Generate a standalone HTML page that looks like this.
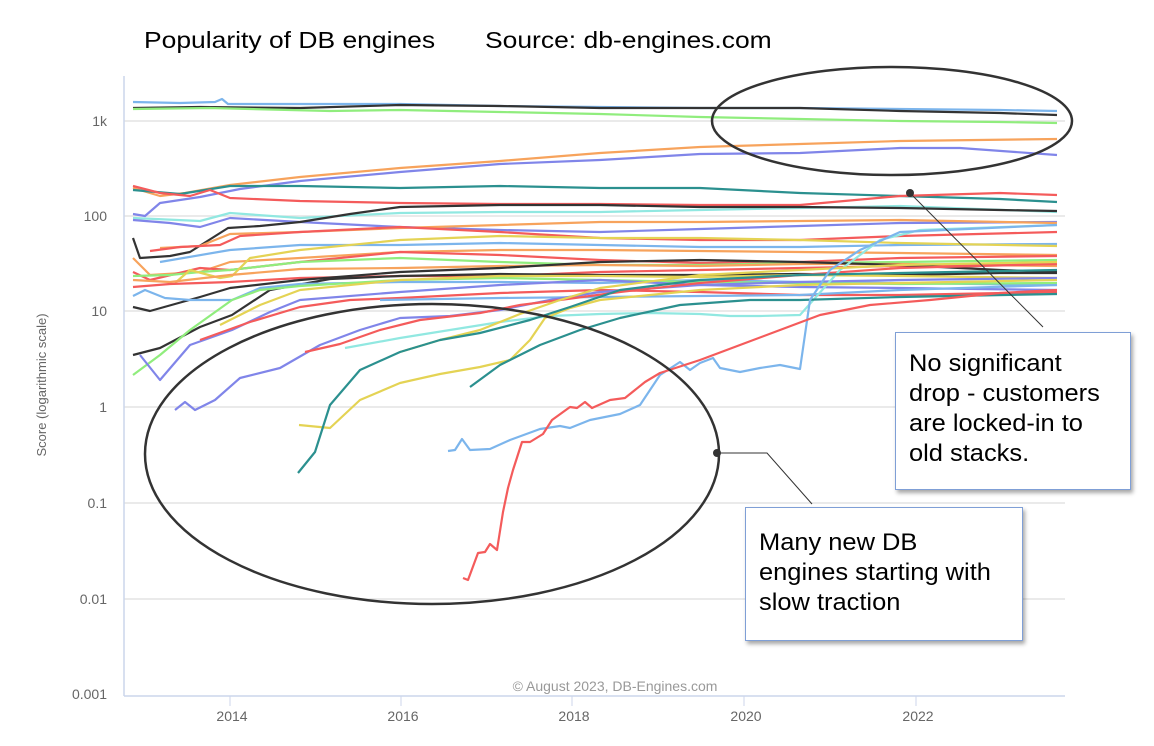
<!DOCTYPE html>
<html><head><meta charset="utf-8"><style>
html,body{margin:0;padding:0;background:#fff;}
body{width:1154px;height:746px;overflow:hidden;position:relative;font-family:"Liberation Sans",sans-serif;}
.t{position:absolute;font-size:23px;color:#000;top:27px;transform:scaleX(1.15);transform-origin:left top;white-space:nowrap;}
.box{position:absolute;background:#fff;border:1px solid #7f9fd6;box-shadow:2px 3px 4px rgba(0,0,0,0.35);font-size:24px;line-height:30px;color:#000;box-sizing:border-box;white-space:nowrap;}
.box span{display:inline-block;transform:scaleX(1.06);transform-origin:left top;}
</style></head><body>
<div class="t" style="left:144px">Popularity of DB engines</div>
<div class="t" style="left:485px">Source: db-engines.com</div>
<svg width="1154" height="746" style="position:absolute;left:0;top:0" font-family="Liberation Sans, DejaVu Sans, sans-serif">
<g stroke="#e3e3e3" stroke-width="1.5">
<line x1="124" y1="121" x2="1065" y2="121"/><line x1="124" y1="216" x2="1065" y2="216"/>
<line x1="124" y1="311" x2="1065" y2="311"/><line x1="124" y1="407" x2="1065" y2="407"/>
<line x1="124" y1="503" x2="1065" y2="503"/><line x1="124" y1="599" x2="1065" y2="599"/>
</g>
<line x1="124" y1="76" x2="124" y2="696" stroke="#ccd6eb" stroke-width="1.5"/>
<line x1="124" y1="696" x2="1065" y2="696" stroke="#ccd6eb" stroke-width="1.5"/>
<g stroke="#ccd6eb"><line x1="230" y1="696" x2="230" y2="706"/><line x1="401" y1="696" x2="401" y2="706"/><line x1="572" y1="696" x2="572" y2="706"/><line x1="744" y1="696" x2="744" y2="706"/><line x1="916" y1="696" x2="916" y2="706"/></g>
<g fill="#666" font-size="14" text-anchor="end">
<text x="107" y="126">1k</text><text x="107" y="221">100</text><text x="107" y="316">10</text><text x="107" y="412">1</text><text x="107" y="508">0.1</text><text x="107" y="604">0.01</text><text x="107" y="699">0.001</text>
</g>
<g fill="#666" font-size="14" text-anchor="middle">
<text x="232" y="721">2014</text><text x="403" y="721">2016</text><text x="574" y="721">2018</text><text x="746" y="721">2020</text><text x="918" y="721">2022</text>
</g>
<text x="46" y="385" fill="#666" font-size="13" text-anchor="middle" transform="rotate(-90 46 385)">Score (logarithmic scale)</text>
<text x="615" y="691" fill="#999" font-size="14" text-anchor="middle">© August 2023, DB-Engines.com</text>
<g fill="none" stroke-width="2.2" stroke-linejoin="round">
<polyline stroke="#7cb5ec" points="133,102 180,103 215,102 222,99 228,104 300,104 400,104 500,106 600,107 700,108 800,108 900,109 1000,110 1057,111"/>
<polyline stroke="#333" points="133,108 200,107 300,108 400,105 500,106 600,108 700,108 800,108 900,111 1000,113 1057,115"/>
<polyline stroke="#90ed7d" points="133,109 210,108 330,111 400,110 500,112 600,114 700,117 800,119 900,121 1000,122 1057,123"/>
<polyline stroke="#f7a35c" points="133,188 160,196 185,193 230,185 300,177 400,168 500,161 600,153 700,147 800,144 900,141 1057,139"/>
<polyline stroke="#8085e9" points="133,214 145,216 160,203 200,197 240,189 300,181 400,172 500,164 600,160 700,154 800,153 900,148 960,148 1057,155"/>
<polyline stroke="#2b908f" points="133,190 180,194 230,186 300,186 400,188 500,186 600,188 700,188 800,193 900,196 1000,199 1057,202"/>
<polyline stroke="#f45b5b" points="133,186 160,193 190,196 210,190 230,198 300,201 400,203 500,204 600,204 700,205 800,205 900,196 1000,193 1057,195"/>
<polyline stroke="#91e8e1" points="133,218 200,221 230,213 300,218 400,213 500,212 600,212 700,210 800,208 900,206 1057,212"/>
<polyline stroke="#8085e9" points="133,220 170,223 200,227 230,218 300,222 400,227 500,230 600,232 700,229 800,226 900,223 1057,222"/>
<polyline stroke="#333" points="133,238 140,258 170,256 190,252 228,228 260,226 300,222 350,214 400,207 500,205 600,205 700,207 800,207 900,208 1000,210 1057,211"/>
<polyline stroke="#f7a35c" points="160,248 200,246 230,234 300,232 400,228 500,225 600,222 700,222 800,221 900,220 1057,223"/>
<polyline stroke="#f45b5b" points="150,251 180,247 220,245 240,236 300,232 400,227 500,232 600,238 700,240 800,240 900,236 1057,232"/>
<polyline stroke="#7cb5ec" points="160,262 230,250 300,245 400,245 500,243 600,245 700,247 800,247 900,245 1057,244"/>
<polyline stroke="#f7a35c" points="133,258 150,275 200,272 230,262 300,258 400,252 500,250 600,250 700,251 800,252 900,253 1057,255"/>
<polyline stroke="#f45b5b" points="133,272 150,280 200,268 230,270 300,262 400,252 500,255 600,260 700,263 800,262 900,258 1057,256"/>
<polyline stroke="#90ed7d" points="133,276 170,275 200,272 230,270 300,262 400,258 500,262 600,265 700,265 800,263 900,262 1057,260"/>
<polyline stroke="#e4d354" points="175,283 190,270 220,278 232,276 250,258 300,250 400,240 500,236 600,238 700,238 800,240 900,243 1057,246"/>
<polyline stroke="#f7a35c" points="133,280 170,282 230,275 300,269 400,268 500,266 600,265 700,266 800,264 900,264 1057,266"/>
<polyline stroke="#f45b5b" points="133,287 170,284 230,282 300,278 400,276 500,276 600,272 700,270 800,268 900,266 1057,264"/>
<polyline stroke="#333" points="133,307 150,311 200,297 230,288 300,280 400,272 500,268 600,262 700,260 800,262 900,265 1000,270 1057,272"/>
<polyline stroke="#333" points="133,355 160,348 200,327 232,315 270,290 330,279 400,276 500,274 600,275 700,275 800,274 900,275 1000,273 1057,273"/>
<polyline stroke="#7cb5ec" points="133,296 145,290 165,298 190,300 232,300 260,288 300,284 400,282 500,282 600,283 700,280 800,282 900,283 1057,285"/>
<polyline stroke="#90ed7d" points="133,375 160,355 190,330 232,300 260,290 300,286 400,280 500,278 600,280 700,282 800,283 900,284 1057,283"/>
<polyline stroke="#8085e9" points="140,355 160,380 190,345 232,330 270,312 300,300 400,292 500,285 600,280 700,285 800,287 900,288 1057,290"/>
<polyline stroke="#f45b5b" points="200,340 250,322 300,307 350,300 400,298 500,293 600,290 700,292 800,295 900,295 1057,292"/>
<polyline stroke="#e4d354" points="220,325 260,305 300,290 400,280 500,276 600,276 700,277 800,275 900,276 1057,278"/>
<polyline stroke="#7cb5ec" points="380,300 500,298 600,297 700,296 800,295 900,290 1057,285"/>
<polyline stroke="#8085e9" points="175,410 185,402 195,410 215,400 240,378 280,368 320,345 360,330 400,318 450,316 500,310 550,300 600,292 700,285 800,282 900,280 1057,278"/>
<polyline stroke="#f45b5b" points="305,352 340,344 380,330 420,320 480,313 520,305 560,300 620,292 700,283 800,275 900,268 1057,264"/>
<polyline stroke="#91e8e1" points="345,348 400,338 450,330 500,322 550,316 600,314 650,313 700,314 730,316 760,316 800,315 840,270 880,240 920,230 1057,225"/>
<polyline stroke="#e4d354" points="400,352 440,340 480,330 520,314 560,300 600,288 700,275 800,270 900,265 1057,262"/>
<polyline stroke="#e4d354" points="299,425 330,428 360,400 400,383 440,374 480,367 510,360 530,340 545,318 570,308 600,300 700,290 800,285 900,283 1057,280"/>
<polyline stroke="#2b908f" points="298,473 315,452 330,405 360,370 400,352 440,340 480,333 530,320 570,307 620,290 700,280 800,275 900,273 1057,270"/>
<polyline stroke="#2b908f" points="470,387 500,365 540,345 580,330 620,318 680,305 750,300 800,300 900,297 1057,294"/>
<polyline stroke="#7cb5ec" points="448,451 455,450 462,439 470,450 490,449 510,440 540,429 560,426 570,428 590,420 620,414 640,405 660,375 680,362 690,370 700,363 713,358 720,368 730,370 740,372 760,368 780,365 800,369 810,300 830,270 860,250 900,232 1057,225"/>
<polyline stroke="#f45b5b" points="463,578 468,580 478,553 485,552 490,544 497,550 503,512 508,488 513,470 522,442 530,442 543,434 552,420 570,407 577,408 585,402 592,408 610,400 625,398 645,382 660,373 700,360 740,345 780,330 820,315 870,305 930,300 1000,293 1057,290"/>
</g>
<ellipse cx="892" cy="121" rx="180" ry="54" fill="none" stroke="#333" stroke-width="2.5"/>
<ellipse cx="432" cy="454" rx="287" ry="150" fill="none" stroke="#333" stroke-width="2.5"/>
<circle cx="910" cy="193" r="4" fill="#333"/>
<polyline points="910,193 1043,327" fill="none" stroke="#333" stroke-width="1"/>
<circle cx="717" cy="453" r="4" fill="#333"/>
<polyline points="717,453 767,453 812,504" fill="none" stroke="#333" stroke-width="1"/>
</svg>
<div class="box" style="left:895px;top:332px;width:236px;height:158px;padding:16px 0 0 13px;"><span>No significant<br>drop - customers<br>are locked-in to<br>old stacks.</span></div>
<div class="box" style="left:745px;top:507px;width:278px;height:134px;padding:20px 0 0 13px;"><span>Many new DB<br>engines starting with<br>slow traction</span></div>
</body></html>
